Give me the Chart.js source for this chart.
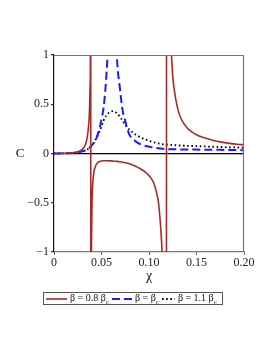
<!DOCTYPE html>
<html>
<head>
<meta charset="utf-8">
<script src="https://cdn.jsdelivr.net/npm/chart.js@4.4.0/dist/chart.umd.min.js"></script>
<style>
  html, body { margin: 0; padding: 0; background: #fff; }
  #wrap { position: relative; width: 274px; height: 355px; }
  #legend {
    position: absolute; left: 43px; top: 292px; height: 13px;
    border: 1px solid #555; font: 10px "Liberation Serif", serif; color: #111;
    display: flex; align-items: center; white-space: nowrap; padding: 0 2px; box-sizing: border-box;
  }
  #legend .item { display: flex; align-items: center; margin-right: 3px; }
  #legend svg { margin-right: 3px; }
  #legend sub { font-size: 7px; vertical-align: -3px; }
</style>
</head>
<body>
<div id="wrap">
  <canvas id="myChart" width="274" height="355"></canvas>
  <div id="legend"></div>
</div>
<script>
// beta = 0.8 beta_c  (two poles)
var chiRed = [0, 0.01, 0.02, 0.025, 0.03, 0.032, 0.034, 0.035, 0.036, 0.037, 0.0375, 0.038, 0.0383, 0.0386,
  0.0388, 0.0392, 0.0396, 0.040, 0.041, 0.042, 0.0435, 0.0452, 0.048, 0.052, 0.056, 0.060, 0.065, 0.0696, 0.075,
  0.080, 0.087, 0.090, 0.095, 0.101, 0.105, 0.108, 0.110, 0.1114, 0.1128, 0.1138, 0.116, 0.1182,
  0.1186, 0.1205, 0.1236, 0.1253, 0.128, 0.1315, 0.135, 0.140, 0.145, 0.150, 0.155, 0.160, 0.166, 0.175, 0.185, 0.193, 0.200];
var cRed = [0, 0.002, 0.008, 0.018, 0.045, 0.07, 0.12, 0.17, 0.24, 0.36, 0.48, 0.68, 1.0, 8,
  -8, -1.6, -0.8, -0.5, -0.28, -0.19, -0.135, -0.1, -0.082, -0.073, -0.073, -0.075, -0.079, -0.083, -0.094,
  -0.106, -0.134, -0.15, -0.18, -0.235, -0.3, -0.4, -0.5, -0.64, -0.82, -1.0, -1.8, -8,
  8, 2.0, 1.0, 0.75, 0.56, 0.41, 0.33, 0.262, 0.22, 0.19, 0.17, 0.155, 0.137, 0.118, 0.103, 0.094, 0.088];

// beta = beta_c  (critical, single divergence)
var chiBlue = [0, 0.01, 0.02, 0.025, 0.03, 0.035, 0.04, 0.0435, 0.0452, 0.048, 0.0505, 0.052, 0.054, 0.0555, 0.0564,
  0.058, 0.0600, 0.0612, 0.0625, 0.064, 0.0661, 0.0696, 0.072, 0.075, 0.079, 0.085, 0.093, 0.104, 0.118,
  0.130, 0.145, 0.160, 0.175, 0.190, 0.200];
var cBlue = [0, 0.002, 0.006, 0.012, 0.022, 0.04, 0.085, 0.13, 0.17, 0.26, 0.37, 0.45, 0.64, 0.85, 1.0,
  1.5, 3.5, 12, 3.0, 1.6, 1.0, 0.645, 0.45, 0.33, 0.2, 0.13, 0.087, 0.063, 0.045,
  0.042, 0.04, 0.038, 0.037, 0.035, 0.034];

// beta = 1.1 beta_c  (smooth peak)
var chiDot = [0, 0.01, 0.02, 0.025, 0.03, 0.035, 0.04, 0.0435, 0.0487, 0.052, 0.055, 0.0574, 0.060, 0.0626,
  0.066, 0.0696, 0.0766, 0.084, 0.0933, 0.1107, 0.120, 0.135, 0.150, 0.170, 0.185, 0.200];
var cDot = [0, 0.002, 0.007, 0.013, 0.022, 0.04, 0.085, 0.137, 0.24, 0.33, 0.385, 0.41, 0.425, 0.43,
  0.41, 0.37, 0.27, 0.205, 0.154, 0.10, 0.09, 0.08, 0.075, 0.068, 0.063, 0.058];

var seriesLabels = ['β = 0.8 β_c', 'β = β_c', 'β = 1.1 β_c'];
var xTicks = [0, 0.05, 0.10, 0.15, 0.20];
var yTicks = [-1, -0.5, 0, 0.5, 1];

function pts(xs, ys) {
  return xs.map(function (x, i) { return { x: x, y: ys[i] }; });
}

var serif = '"Liberation Serif", "DejaVu Serif", serif';

// frame on top/right plus the "C" axis label
var framePlugin = {
  id: 'frame',
  afterDraw: function (chart) {
    var a = chart.chartArea, ctx = chart.ctx;
    ctx.save();
    ctx.strokeStyle = '#777';
    ctx.lineWidth = 1.2;
    ctx.beginPath();
    ctx.moveTo(a.left, a.top + 0.5);
    ctx.lineTo(a.right - 0.5, a.top + 0.5);
    ctx.lineTo(a.right - 0.5, a.bottom);
    ctx.stroke();
    ctx.fillStyle = '#111';
    ctx.font = '13px ' + serif;
    ctx.textAlign = 'center';
    ctx.textBaseline = 'middle';
    ctx.fillText('C', 20, chart.scales.y.getPixelForValue(0));
    ctx.restore();
  }
};

var ctx = document.getElementById('myChart');
var chart = new Chart(ctx, {
  type: 'scatter',
  data: {
    datasets: [{
      label: seriesLabels[0],
      data: pts(chiRed, cRed),
      borderColor: '#a62b2b',
      borderWidth: 1.6
    }, {
      label: seriesLabels[1],
      data: pts(chiBlue, cBlue),
      borderColor: '#1a1aff',
      borderWidth: 2,
      borderDash: [8, 4]
    }, {
      label: seriesLabels[2],
      data: pts(chiDot, cDot),
      borderColor: '#000',
      borderWidth: 1.8,
      borderDash: [1.6, 2.6]
    }]
  },
  options: {
    responsive: false,
    animation: false,
    showLine: true,
    elements: {
      point: { radius: 0 },
      line: { cubicInterpolationMode: 'monotone', borderCapStyle: 'butt' }
    },
    layout: { padding: { left: 0, right: 30, top: 55, bottom: 66 } },
    plugins: { legend: { display: false }, tooltip: { enabled: false } },
    scales: {
      x: {
        type: 'linear', min: 0, max: 0.2,
        afterFit: function (s) { s.height = 37; },
        afterBuildTicks: function (s) { s.ticks = xTicks.map(function (v) { return { value: v }; }); },
        ticks: {
          font: { family: serif, size: 12 }, color: '#222', padding: 1, maxRotation: 0,
          callback: function (v) { return v === 0 ? '0' : v.toFixed(2); }
        },
        grid: { color: 'transparent', tickColor: '#666', tickLength: 3 },
        border: { color: '#777', width: 1.2 },
        title: { display: true, text: 'χ', font: { family: serif, size: 14 }, color: '#111', padding: { top: 2, bottom: 4 } }
      },
      y: {
        min: -1, max: 1,
        afterFit: function (s) { s.width = 54; },
        afterBuildTicks: function (s) { s.ticks = yTicks.map(function (v) { return { value: v }; }); },
        ticks: {
          font: { family: serif, size: 12 }, color: '#222', padding: 2,
          callback: function (v) { return v === 0 ? '0' : (v < 0 ? '−' + Math.abs(v) : String(v)); }
        },
        grid: {
          color: function (c) { return c.tick && c.tick.value === 0 ? '#000' : 'transparent'; },
          lineWidth: 1.2, tickColor: '#333', tickLength: 3
        },
        border: { color: '#111', width: 1.2 }
      }
    }
  },
  plugins: [framePlugin]
});

// html legend built from the datasets (needs subscripts)
var legend = document.getElementById('legend');
var swW = [21, 20, 13];
chart.data.datasets.forEach(function (ds, i) {
  var item = document.createElement('span');
  item.className = 'item';
  var w = swW[i];
  var dash = ds.borderDash ? ds.borderDash.join(',') : 'none';
  item.innerHTML = '<svg width="' + w + '" height="6"><line x1="0" y1="3" x2="' + w + '" y2="3" stroke="' +
    ds.borderColor + '" stroke-width="' + ds.borderWidth + '" stroke-dasharray="' + dash + '"/></svg>' +
    '<span>' + ds.label.replace('_c', '<sub>c</sub>') + '</span>';
  legend.appendChild(item);
});
</script>
</body>
</html>
